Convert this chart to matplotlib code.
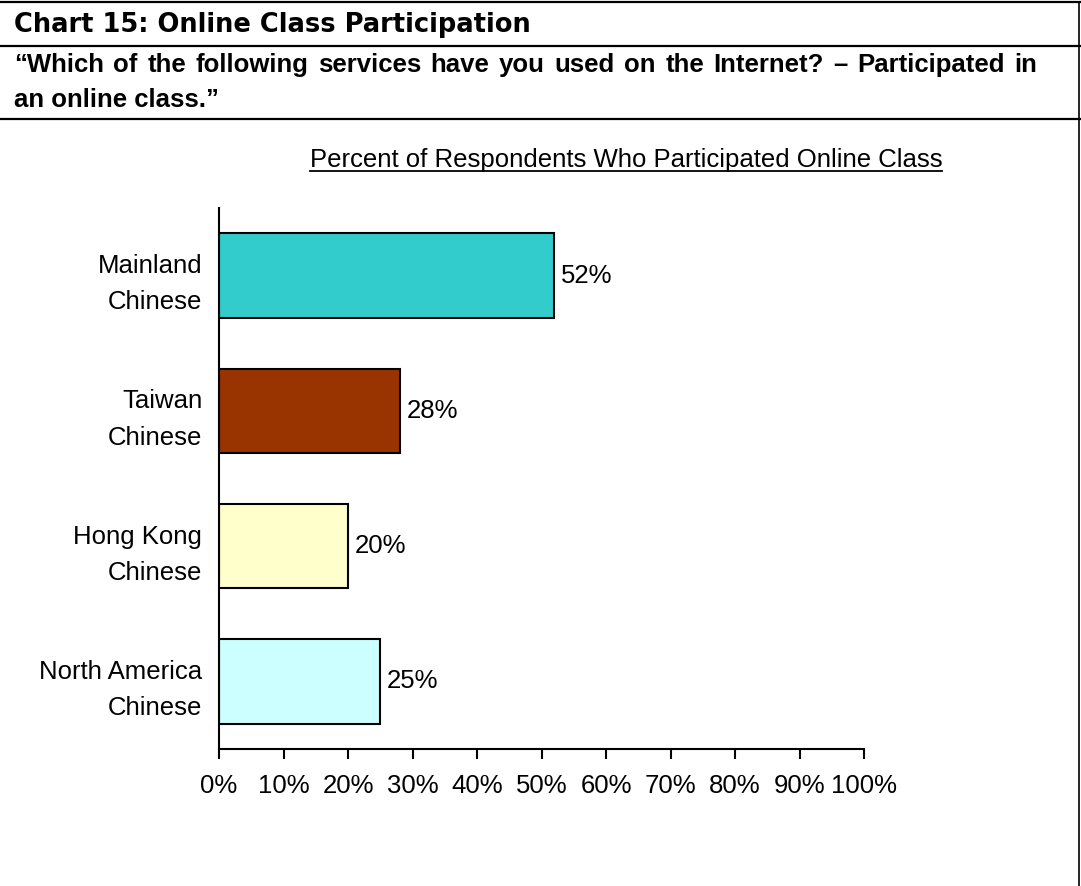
import matplotlib
matplotlib.use("Agg")
import matplotlib.pyplot as plt
from matplotlib.lines import Line2D
from matplotlib.ticker import FuncFormatter

groups = ["Mainland\nChinese", "Taiwan\nChinese", "Hong Kong\nChinese", "North America\nChinese"]
percents = [52, 28, 20, 25]
bar_colors = ["#33CCCC", "#993300", "#FFFFCC", "#CCFFFF"]
xticks = list(range(0, 101, 10))

header = "Chart 15: Online Class Participation"
question_lines = ["\u201cWhich of the following services have you used on the Internet? \u2013 Participated in",
                  "an online class.\u201d"]
chart_title = "Percent of Respondents Who Participated Online Class"

W, H = 1081, 886
fig = plt.figure(figsize=(W / 100, H / 100), dpi=100)
plt.rcParams['font.family'] = ['Liberation Sans', 'DejaVu Sans']
FS = 18.5
QFS = 18.5

def fx(px):
    return px / W

def fy(py):
    return 1 - py / H

# frame lines of the table cell
for y in (2, 46, 119):
    fig.add_artist(Line2D([0, fx(1080)], [fy(y), fy(y)], color="black", lw=1.6))
fig.add_artist(Line2D([fx(1079), fx(1079)], [fy(2), 0], color="black", lw=1.2))

fig.text(fx(14), fy(32), header, family="DejaVu Sans", weight="bold",
         fontsize=18.5, va="baseline", ha="left")

# question text, first line justified to the cell width
renderer = fig.canvas.get_renderer()
words = question_lines[0].split(" ")
wtexts = [fig.text(0, fy(72), w, weight="bold", fontsize=QFS, va="baseline", ha="left")
          for w in words]
widths = [t.get_window_extent(renderer).width for t in wtexts]
gap = (1037 - 14 - sum(widths)) / (len(words) - 1)
x = 14
for t, w in zip(wtexts, widths):
    t.set_x(fx(x))
    x += w + gap
fig.text(fx(14), fy(107), question_lines[1], weight="bold", fontsize=QFS,
         va="baseline", ha="left")

ax = fig.add_axes([fx(219), fy(749), fx(864) - fx(219), (749 - 208) / H])
pos = list(range(len(groups)))
ax.barh(pos, percents, height=0.625, color=bar_colors, edgecolor="black", linewidth=1.5)
for p, v in zip(pos, percents):
    ax.annotate(f"{v}%", (v, p), xytext=(5, 0), textcoords="offset points",
                va="center", ha="left", fontsize=FS)

ax.set_xlim(0, 100)
ax.set_ylim(len(groups) - 0.5, -0.5)
ax.set_xticks(xticks)
ax.xaxis.set_major_formatter(FuncFormatter(lambda v, _: f"{v:.0f}%"))
ax.set_yticks(pos)
ax.set_yticklabels(groups, fontsize=FS, linespacing=1.65)
ax.tick_params(axis="y", length=0, pad=12)
ax.tick_params(axis="x", length=7, width=1.5, direction="out", pad=11, labelsize=FS)
for side in ("top", "right"):
    ax.spines[side].set_visible(False)
for side in ("left", "bottom"):
    ax.spines[side].set_linewidth(1.5)

# underlined chart title
t = fig.text(fx(626), fy(160), chart_title, fontsize=FS, ha="center", va="center")
fig.canvas.draw()
bb = t.get_window_extent(fig.canvas.get_renderer())
inv = fig.transFigure.inverted()
(x0, y0), (x1, y1) = inv.transform([[bb.x0, bb.y0], [bb.x1, bb.y1]])
fig.add_artist(Line2D([x0, x1], [y0 + 0.001, y0 + 0.001], color="black", lw=1.3))

fig.savefig("out.png", dpi=100)
